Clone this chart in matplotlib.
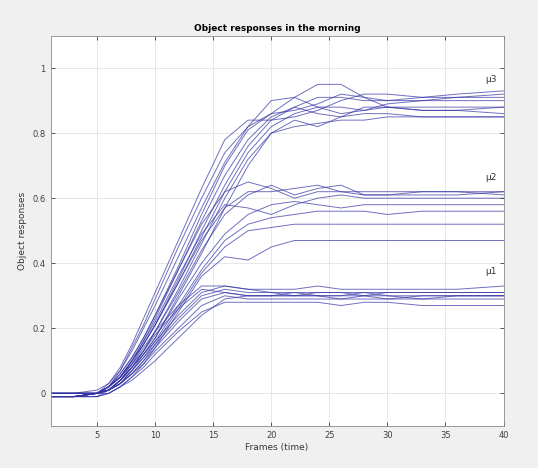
import matplotlib
matplotlib.use("Agg")
import matplotlib.pyplot as plt

frames = [1, 3, 5, 6, 7, 8, 9, 10, 12, 14, 16, 18, 20, 22, 24, 26, 28, 30, 33, 36, 40]

# === mu3 group (plateau ~0.9) ===
g3_1 = [-0.01, -0.01, 0.00, 0.02, 0.07, 0.14, 0.21, 0.29, 0.45, 0.60, 0.74, 0.82, 0.86, 0.91, 0.95, 0.95, 0.91, 0.88, 0.87, 0.87, 0.86]
g3_2 = [-0.01, -0.01, 0.00, 0.03, 0.08, 0.15, 0.23, 0.31, 0.47, 0.63, 0.78, 0.84, 0.84, 0.85, 0.87, 0.90, 0.92, 0.92, 0.91, 0.92, 0.93]
g3_3 = [0.00, 0.00, 0.01, 0.03, 0.07, 0.13, 0.20, 0.27, 0.42, 0.57, 0.71, 0.82, 0.90, 0.91, 0.88, 0.86, 0.87, 0.89, 0.90, 0.91, 0.92]
g3_4 = [-0.01, -0.01, 0.00, 0.02, 0.05, 0.10, 0.16, 0.23, 0.38, 0.53, 0.67, 0.78, 0.85, 0.88, 0.86, 0.85, 0.86, 0.86, 0.85, 0.85, 0.85]
g3_5 = [0.00, 0.00, 0.00, 0.01, 0.04, 0.09, 0.15, 0.21, 0.35, 0.50, 0.64, 0.76, 0.84, 0.88, 0.91, 0.91, 0.90, 0.90, 0.90, 0.90, 0.90]
g3_6 = [-0.01, -0.01, -0.01, 0.01, 0.04, 0.08, 0.13, 0.19, 0.32, 0.46, 0.60, 0.72, 0.80, 0.84, 0.82, 0.85, 0.88, 0.88, 0.87, 0.87, 0.88]
g3_7 = [0.00, 0.00, 0.00, 0.01, 0.03, 0.07, 0.12, 0.17, 0.30, 0.43, 0.57, 0.70, 0.80, 0.82, 0.83, 0.84, 0.84, 0.85, 0.85, 0.85, 0.85]
g3_8 = [-0.01, -0.01, 0.00, 0.02, 0.06, 0.11, 0.17, 0.24, 0.39, 0.55, 0.70, 0.81, 0.86, 0.87, 0.89, 0.92, 0.91, 0.90, 0.91, 0.91, 0.91]
g3_9 = [0.00, 0.00, 0.00, 0.02, 0.05, 0.10, 0.15, 0.21, 0.34, 0.48, 0.62, 0.74, 0.82, 0.86, 0.88, 0.88, 0.87, 0.88, 0.88, 0.88, 0.88]

# === mu2 group (plateau ~0.6) ===
g2_1 = [-0.01, -0.01, 0.00, 0.02, 0.06, 0.11, 0.17, 0.24, 0.38, 0.52, 0.62, 0.65, 0.63, 0.60, 0.62, 0.62, 0.62, 0.62, 0.62, 0.62, 0.62]
g2_2 = [0.00, 0.00, 0.00, 0.02, 0.05, 0.10, 0.15, 0.21, 0.34, 0.47, 0.57, 0.62, 0.62, 0.63, 0.64, 0.62, 0.61, 0.61, 0.62, 0.62, 0.61]
g2_3 = [-0.01, -0.01, 0.00, 0.01, 0.04, 0.08, 0.13, 0.19, 0.31, 0.44, 0.55, 0.61, 0.64, 0.61, 0.63, 0.64, 0.61, 0.61, 0.61, 0.61, 0.62]
g2_4 = [0.00, 0.00, 0.00, 0.01, 0.04, 0.08, 0.12, 0.17, 0.29, 0.40, 0.49, 0.55, 0.58, 0.59, 0.58, 0.57, 0.58, 0.58, 0.58, 0.58, 0.58]
g2_5 = [-0.01, -0.01, 0.00, 0.01, 0.03, 0.07, 0.11, 0.16, 0.27, 0.38, 0.47, 0.52, 0.54, 0.55, 0.56, 0.56, 0.56, 0.55, 0.56, 0.56, 0.56]
g2_6 = [0.00, 0.00, 0.00, 0.01, 0.03, 0.06, 0.10, 0.15, 0.26, 0.37, 0.45, 0.50, 0.51, 0.52, 0.52, 0.52, 0.52, 0.52, 0.52, 0.52, 0.52]
g2_7 = [-0.01, -0.01, -0.01, 0.00, 0.02, 0.05, 0.09, 0.14, 0.25, 0.36, 0.42, 0.41, 0.45, 0.47, 0.47, 0.47, 0.47, 0.47, 0.47, 0.47, 0.47]
g2_8 = [0.00, 0.00, 0.00, 0.02, 0.05, 0.10, 0.16, 0.22, 0.36, 0.49, 0.58, 0.57, 0.55, 0.58, 0.60, 0.61, 0.60, 0.60, 0.60, 0.60, 0.60]

# === mu1 group (plateau ~0.3) ===
g1_1 = [-0.01, -0.01, 0.00, 0.02, 0.05, 0.09, 0.14, 0.19, 0.27, 0.33, 0.33, 0.32, 0.31, 0.31, 0.31, 0.31, 0.30, 0.31, 0.31, 0.31, 0.31]
g1_2 = [0.00, 0.00, 0.00, 0.01, 0.04, 0.08, 0.12, 0.16, 0.24, 0.31, 0.33, 0.32, 0.32, 0.32, 0.33, 0.32, 0.32, 0.32, 0.32, 0.32, 0.33]
g1_3 = [-0.01, -0.01, 0.00, 0.01, 0.03, 0.06, 0.10, 0.14, 0.22, 0.29, 0.31, 0.30, 0.30, 0.30, 0.30, 0.29, 0.30, 0.30, 0.29, 0.30, 0.30]
g1_4 = [0.00, 0.00, 0.00, 0.01, 0.03, 0.06, 0.09, 0.13, 0.20, 0.27, 0.30, 0.29, 0.29, 0.29, 0.29, 0.29, 0.29, 0.29, 0.29, 0.29, 0.29]
g1_5 = [-0.01, -0.01, -0.01, 0.00, 0.02, 0.05, 0.08, 0.12, 0.19, 0.25, 0.28, 0.28, 0.28, 0.28, 0.28, 0.27, 0.28, 0.28, 0.27, 0.27, 0.27]
g1_6 = [0.00, 0.00, 0.00, 0.02, 0.05, 0.09, 0.13, 0.18, 0.26, 0.32, 0.31, 0.30, 0.30, 0.31, 0.30, 0.30, 0.31, 0.30, 0.30, 0.30, 0.30]
g1_7 = [-0.01, -0.01, 0.00, 0.01, 0.04, 0.07, 0.11, 0.15, 0.23, 0.30, 0.32, 0.31, 0.31, 0.30, 0.31, 0.31, 0.31, 0.31, 0.31, 0.31, 0.31]
g1_8 = [0.00, 0.00, 0.00, 0.00, 0.02, 0.04, 0.07, 0.10, 0.17, 0.24, 0.29, 0.30, 0.30, 0.30, 0.30, 0.30, 0.30, 0.29, 0.30, 0.30, 0.30]

curves = [g3_1, g3_2, g3_3, g3_4, g3_5, g3_6, g3_7, g3_8, g3_9,
          g2_1, g2_2, g2_3, g2_4, g2_5, g2_6, g2_7, g2_8,
          g1_1, g1_2, g1_3, g1_4, g1_5, g1_6, g1_7, g1_8]

# group labels: (text, x, y)
group_labels = [("μ3", 38.9, 0.965), ("μ2", 38.9, 0.665), ("μ1", 38.9, 0.375)]

# === Plot ===
fig = plt.figure(figsize=(5.38, 4.68), dpi=100, facecolor="#f0f0f0")
ax = fig.add_axes([0.094, 0.090, 0.842, 0.834])

line_color = (0.2, 0.2, 0.65)
for c in curves:
    ax.plot(frames, c, color=line_color, linewidth=0.7, alpha=0.7)

for txt, x, y in group_labels:
    ax.text(x, y, txt, fontsize=6.5, color="#333333", ha="center", va="center")

# === Aesthetics (MATLAB-like) ===
ax.set_xlim(1, 40)
ax.set_ylim(-0.1, 1.1)
ax.set_xticks([5, 10, 15, 20, 25, 30, 35, 40])
ax.set_yticks([0, 0.2, 0.4, 0.6, 0.8, 1])
ax.set_yticklabels(["0", "0.2", "0.4", "0.6", "0.8", "1"])
ax.tick_params(direction="in", top=True, right=True, labelsize=6,
               colors="#404040", length=3, width=0.6)
ax.grid(True, color="#e3e3e3", linewidth=0.6)
for s in ax.spines.values():
    s.set_color("#8a8a8a")
    s.set_linewidth(0.6)

ax.set_title("Object responses in the morning", fontsize=6.5, fontweight="bold", pad=3)
ax.set_xlabel("Frames (time)", fontsize=6.5, color="#333333", labelpad=2)
ax.set_ylabel("Object responses", fontsize=6.5, color="#333333", labelpad=4)

fig.savefig("out.png", dpi=100, facecolor=fig.get_facecolor())
plt.close(fig)
